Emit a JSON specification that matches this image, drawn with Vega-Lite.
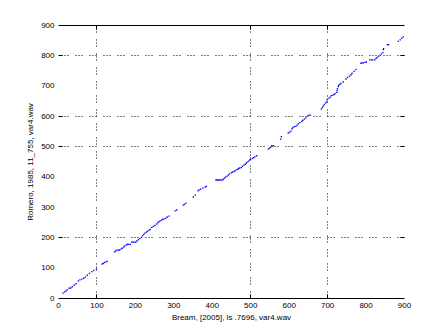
{
  "$schema": "https://vega.github.io/schema/vega-lite/v6.json",
  "width": 346,
  "height": 273,
  "autosize": {"type": "none"},
  "padding": {"left": 58, "top": 25, "right": 43, "bottom": 37},
  "background": "white",
  "config": {
    "view": {"stroke": null},
    "axis": {
      "labelFont": "Liberation Sans",
      "labelFontSize": 8,
      "labelColor": "black",
      "titleFont": "Liberation Sans",
      "titleFontSize": 8,
      "titleFontWeight": "normal",
      "titleColor": "black",
      "domainColor": "black",
      "domainWidth": 1,
      "labelFlush": false,
      "labelOverlap": false
    }
  },
  "data": {"values": [
    {"a":13,"b":16},{"a":17,"b":20},{"a":21,"b":23},{"a":24,"b":27},{"a":29,"b":32},{"a":33,"b":33},{"a":37,"b":37},{"a":42,"b":42},{"a":47,"b":47},{"a":53,"b":56},{"a":57,"b":60},{"a":62,"b":62},{"a":67,"b":65},{"a":71,"b":69},{"a":76,"b":75},{"a":82,"b":81},{"a":88,"b":87},{"a":93,"b":91},{"a":100,"b":96},
    {"a":115,"b":112},{"a":118,"b":114},{"a":121,"b":117},{"a":125,"b":119},{"a":128,"b":121},
    {"a":147,"b":152},{"a":150,"b":155},{"a":153,"b":158},{"a":157,"b":158},{"a":160,"b":158},{"a":164,"b":161},{"a":167,"b":164},{"a":171,"b":168},{"a":174,"b":172},{"a":178,"b":175},{"a":181,"b":177},{"a":184,"b":177},{"a":188,"b":177},{"a":192,"b":184},{"a":195,"b":184},{"a":198,"b":184},{"a":202,"b":184},{"a":205,"b":188},{"a":209,"b":192},{"a":213,"b":196},{"a":217,"b":200},{"a":220,"b":205},{"a":223,"b":210},{"a":226,"b":214},{"a":230,"b":217},{"a":233,"b":220},{"a":237,"b":223},{"a":240,"b":226},{"a":244,"b":233},{"a":248,"b":236},{"a":252,"b":239},{"a":257,"b":244},{"a":260,"b":249},{"a":263,"b":252},{"a":266,"b":254},{"a":270,"b":257},{"a":273,"b":260},{"a":276,"b":260},{"a":280,"b":263},{"a":284,"b":267},{"a":289,"b":270},
    {"a":305,"b":287},{"a":309,"b":290},{"a":326,"b":306},{"a":329,"b":309},{"a":333,"b":313},{"a":352,"b":333},{"a":357,"b":339},{"a":364,"b":353},{"a":367,"b":356},{"a":371,"b":359},{"a":377,"b":362},{"a":383,"b":366},{"a":386,"b":368},
    {"a":411,"b":389},{"a":414,"b":389},{"a":417,"b":389},{"a":421,"b":389},{"a":424,"b":389},{"a":428,"b":389},{"a":430,"b":392},{"a":433,"b":395},{"a":436,"b":399},{"a":440,"b":402},{"a":443,"b":405},{"a":446,"b":409},{"a":451,"b":413},{"a":454,"b":415},{"a":458,"b":417},{"a":461,"b":420},{"a":465,"b":423},{"a":468,"b":425},{"a":470,"b":427},{"a":473,"b":429},{"a":477,"b":430},{"a":480,"b":434},{"a":484,"b":438},{"a":487,"b":441},{"a":490,"b":445},{"a":492,"b":448},{"a":496,"b":451},{"a":499,"b":455},{"a":501,"b":457},{"a":506,"b":460},{"a":509,"b":463},{"a":512,"b":466},{"a":517,"b":469},
    {"a":547,"b":491},{"a":550,"b":494},{"a":553,"b":497},{"a":556,"b":502},{"a":560,"b":502},{"a":579,"b":524},{"a":581,"b":532},
    {"a":599,"b":544},{"a":603,"b":547},{"a":606,"b":550},{"a":609,"b":558},{"a":611,"b":562},{"a":615,"b":565},{"a":619,"b":566},{"a":622,"b":570},{"a":625,"b":574},{"a":629,"b":578},{"a":634,"b":582},{"a":637,"b":586},{"a":641,"b":590},{"a":645,"b":594},{"a":650,"b":600},{"a":653,"b":602},{"a":656,"b":603},
    {"a":685,"b":623},{"a":688,"b":628},{"a":690,"b":633},{"a":693,"b":638},{"a":696,"b":643},{"a":699,"b":646},{"a":700,"b":653},{"a":705,"b":658},{"a":708,"b":662},{"a":711,"b":667},{"a":715,"b":669},{"a":718,"b":671},{"a":721,"b":674},{"a":725,"b":678},{"a":726,"b":684},{"a":727,"b":690},{"a":729,"b":697},{"a":730,"b":701},{"a":733,"b":704},{"a":736,"b":707},{"a":742,"b":712},{"a":749,"b":722},{"a":753,"b":727},{"a":758,"b":731},{"a":762,"b":736},{"a":765,"b":741},{"a":770,"b":747},{"a":775,"b":753},
    {"a":788,"b":774},{"a":791,"b":775},{"a":794,"b":775},{"a":798,"b":777},{"a":802,"b":778},{"a":811,"b":785},{"a":815,"b":785},{"a":819,"b":785},{"a":824,"b":785},{"a":827,"b":789},{"a":830,"b":793},{"a":834,"b":797},{"a":838,"b":800},{"a":841,"b":805},{"a":845,"b":809},{"a":846,"b":819},{"a":847,"b":822},
    {"a":857,"b":835},{"a":860,"b":835},{"a":885,"b":846},{"a":890,"b":851},{"a":894,"b":856},{"a":898,"b":861}
  ]},
  "resolve": {"axis": {"x": "independent", "y": "independent"}},
  "layer": [
    {
      "mark": {"type": "point", "opacity": 0},
      "encoding": {
        "x": {"field": "a", "type": "quantitative",
              "scale": {"domain": [0, 900], "nice": false, "zero": false},
              "axis": {"orient": "top", "values": [100, 500, 700], "grid": true, "gridColor": "black", "gridOpacity": 1, "gridDash": [1, 2, 1, 2, 1, 7], "gridWidth": 1,
                       "labels": false, "domain": true, "ticks": true, "tickSize": -4, "tickColor": "black", "title": null}},
        "y": {"field": "b", "type": "quantitative",
              "scale": {"domain": [0, 900], "nice": false, "zero": false},
              "axis": {"orient": "right", "values": [200, 500, 600, 800], "grid": true, "gridColor": "black", "gridOpacity": 1, "gridDash": [1, 2, 1, 2, 1, 7], "gridWidth": 1,
                       "labels": false, "domain": false, "ticks": true, "tickSize": -4, "tickColor": "black", "title": null}}
      }
    },
    {
      "mark": {"type": "square", "size": 1.8, "filled": true, "color": "#0000ff", "opacity": 1},
      "encoding": {
        "x": {"field": "a", "type": "quantitative",
              "scale": {"domain": [0, 900], "nice": false, "zero": false},
              "axis": {"orient": "bottom", "values": [0, 100, 200, 300, 400, 500, 600, 700, 800, 900], "grid": false, "domain": true,
                       "ticks": true, "tickSize": -4,
                       "tickColor": {"condition": {"test": "datum.value == 100 || datum.value == 500 || datum.value == 700", "value": "black"}, "value": "transparent"},
                       "labelPadding": 7, "titlePadding": 4,
                       "title": "Bream, [2005], ls .7696, var4.wav"}},
        "y": {"field": "b", "type": "quantitative",
              "scale": {"domain": [0, 900], "nice": false, "zero": false},
              "axis": {"orient": "left", "values": [0, 100, 200, 300, 400, 500, 600, 700, 800, 900], "grid": false, "domain": false,
                       "ticks": true, "tickSize": -4,
                       "tickColor": {"condition": {"test": "datum.value == 200 || datum.value == 500 || datum.value == 600 || datum.value == 800", "value": "black"}, "value": "transparent"},
                       "labelPadding": 8, "titlePadding": 6,
                       "title": "Romero, 1985, 11_755, var4.wav"}}
      }
    }
  ]
}
